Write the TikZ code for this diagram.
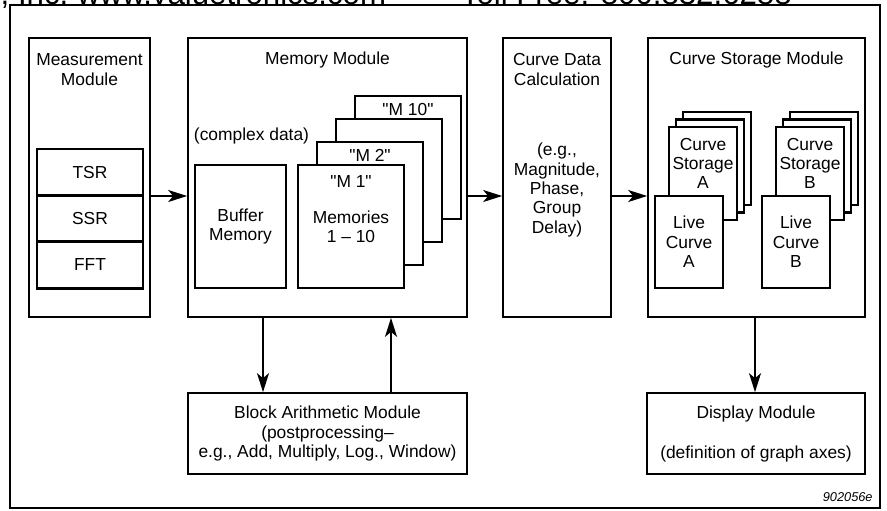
\documentclass[tikz,border=0pt]{standalone}
\usepackage{fontspec}
\setmainfont{Liberation Sans}
\usetikzlibrary{positioning,arrows.meta}
\begin{document}
\begin{tikzpicture}[
            x=0.5pt,y=-0.5pt,
            font=\fontsize{8.7}{9.7}\selectfont,
            module/.style={rectangle,draw,line width=0.85pt,minimum width=#1,minimum height=139.5pt,inner sep=0pt},
            lowerbox/.style={rectangle,draw,line width=0.85pt,minimum width=#1,minimum height=40.5pt,inner sep=0pt,align=center},
            cell/.style={rectangle,draw,line width=1.35pt,minimum width=53pt,minimum height=23.2pt,inner sep=0pt,outer sep=0pt},
            card/.style={rectangle,draw,fill=white,line width=1.35pt,minimum width=53pt,minimum height=61.5pt,inner sep=0pt,align=center},
            sheet/.style={rectangle,draw,fill=white,line width=1.35pt,minimum width=34pt,minimum height=46.5pt,inner sep=0pt,align=center},
            txt/.style={inner sep=0pt,align=center},
            arr/.style={-{Stealth[length=9.5pt,width=6pt,inset=2.5pt]},line width=0.9pt}
        ]
            \useasboundingbox (0,0) rectangle (887,510);
            \begin{scope}
                \clip (0,0) rectangle (887,510);
                \node[txt,anchor=base west,font=\fontsize{15.6}{18}\selectfont] (hdr) at (-17,4) {n, Inc.\hspace{4.5pt}www.valuetronics.com\hspace{37.5pt}Toll Free: 800.832.6288};
            \end{scope}
            \draw[line width=1.35pt] (10,5) rectangle (880,508);

            \node[module=60.5pt] (meas) at (89.5,177.5) {};
            \node[txt] (meastitle) at (89.5,69.5) {Measurement\\Module};
            \node[cell] (tsr) at (90,172.2) {TSR};
            \node[cell,below=0pt of tsr] (ssr) {SSR};
            \node[cell,below=0pt of ssr] (fft) {FFT};

            \node[module=139.5pt] (mem) at (327.5,177.5) {};
            \node[txt] (memtitle) at (327.5,60) {Memory Module};
            \node[txt] (complex) at (251.5,136) {(complex data)};
            \node[card,minimum width=45.5pt] (buffer) at (240.5,226.5) {Buffer\\Memory};
            \node[card] (m10) at (408,157.5) {};
            \node[card] (m3) at (389,180.5) {};
            \node[card] (m2) at (370,203.5) {};
            \node[card] (m1) at (351,226.5) {Memories\\1 \textendash{} 10};
            \node[txt,below=4pt of m10.north] (m10tag) {\textquotedbl M 10\textquotedbl};
            \node[txt,below=4pt of m2.north] (m2tag) {\textquotedbl M 2\textquotedbl};
            \node[txt,below=5.5pt of m1.north] (m1tag) {\textquotedbl M 1\textquotedbl};

            \node[module=54pt] (calc) at (557,177.5) {};
            \node[txt] (calctitle) at (557,69.5) {Curve Data\\Calculation};
            \node[txt] (calcbody) at (557,190) {(e.g.,\\Magnitude,\\Phase,\\Group\\Delay)};

            \node[module=108.5pt] (store) at (756.5,177.5) {};
            \node[txt] (storetitle) at (756.5,60) {Curve Storage Module};
            \node[sheet] (sa3) at (717,158.5) {};
            \node[sheet] (sa2) at (710,166) {};
            \node[sheet] (sa1) at (703,173.5) {};
            \node[txt] (satext) at (703,163.5) {Curve\\Storage\\A};
            \node[sheet] (sb3) at (824,158.5) {};
            \node[sheet] (sb2) at (817,166) {};
            \node[sheet] (sb1) at (810,173.5) {};
            \node[txt] (sbtext) at (810,163.5) {Curve\\Storage\\B};
            \node[sheet,minimum height=46pt] (livea) at (689,242) {Live\\Curve\\A};
            \node[sheet,minimum height=46pt] (liveb) at (796,242) {Live\\Curve\\B};

            \node[lowerbox=139.5pt] (block) at (327.5,433.5) {Block Arithmetic Module\\(postprocessing\textendash\\e.g., Add, Multiply, Log., Window)};
            \node[lowerbox=109pt] (disp) at (756,433.5) {Display Module\\[10.3pt](definition of graph axes)};
            \node[txt,anchor=east,font=\fontsize{6.4}{7}\selectfont\itshape] (figno) at (873,497) {902056e};

            \draw[arr] ([yshift=-9.25pt]meas.east) -- ([yshift=-9.25pt]mem.west);
            \draw[arr] ([yshift=-9.25pt]mem.east) -- ([yshift=-9.25pt]calc.west);
            \draw[arr] ([yshift=-9.25pt]calc.east) -- ([yshift=-9.25pt]store.west);
            \draw[arr] ([xshift=-32.25pt]mem.south) -- ([xshift=-32.25pt]block.north);
            \draw[arr] ([xshift=31.75pt]block.north) -- ([xshift=31.75pt]mem.south);
            \draw[arr] ([xshift=-0.75pt]store.south) -- ([xshift=-0.75pt]store.south |- disp.north);
        \end{tikzpicture}
\end{document}
